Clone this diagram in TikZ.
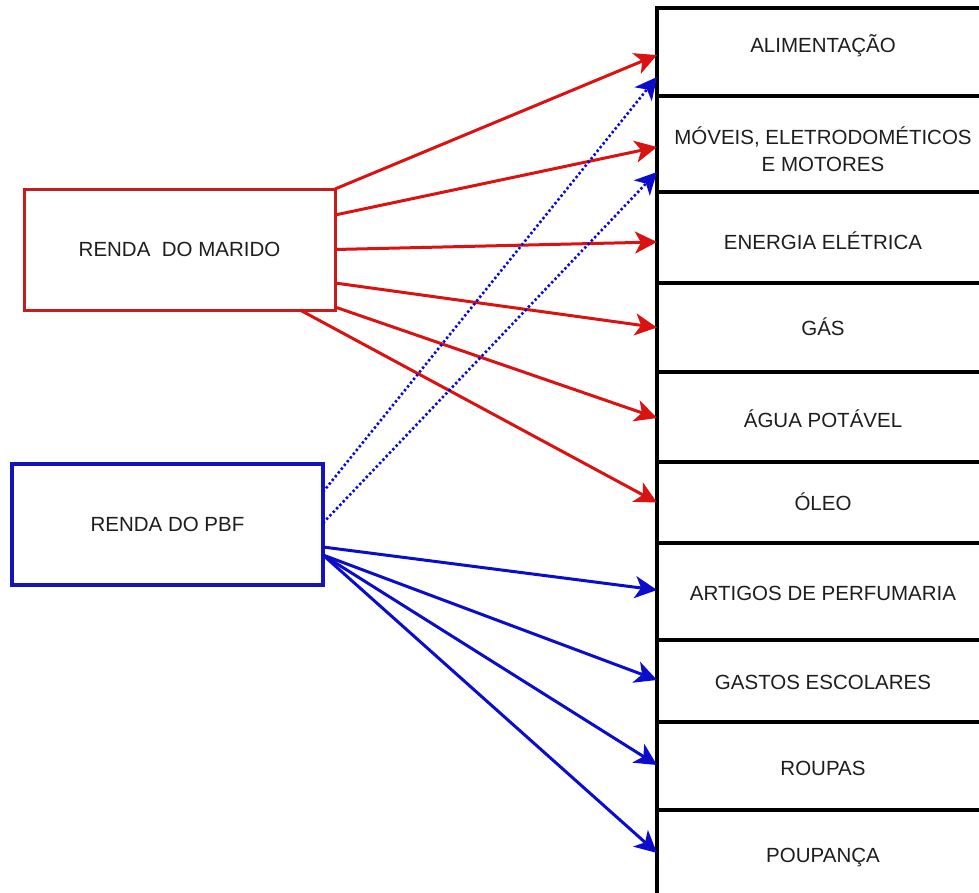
\documentclass[tikz,border=0pt]{standalone}
\usepackage{fontspec}
\setmainfont{Liberation Sans}
\usetikzlibrary{arrows.meta,calc}
\definecolor{rd}{RGB}{218,18,18}
\definecolor{rdbox}{RGB}{200,28,28}
\definecolor{bl}{RGB}{12,12,205}
\definecolor{blbox}{RGB}{20,20,185}
\definecolor{txt}{RGB}{30,30,30}
\begin{document}
\begin{tikzpicture}[x=1pt,y=-1pt,
  catbox/.style={draw=black, line width=4pt, minimum width=332pt, anchor=north west, inner sep=0pt, outer sep=0pt},
  cattext/.style={text=txt, font=\fontsize{20.5}{27}\selectfont, align=center, inner sep=0pt, text height=14.5pt, text depth=0pt},
  srcbox/.style={line width=3pt, minimum width=311pt, minimum height=121pt, inner sep=0pt, outer sep=0pt, text=txt, font=\fontsize{20.5}{24}\selectfont, text height=14.5pt, text depth=0pt},
  tipstyle/.style={-{Stealth[length=22pt 0,width=22pt 0,inset=6pt 0]}},
  redarrow/.style={draw=rd, line width=3pt, tipstyle},
  bluearrow/.style={draw=bl, line width=3pt, tipstyle},
  bluedot/.style={draw=bl, line width=2.6pt, dash pattern=on 2.4pt off 2.4pt, tipstyle}
]
\useasboundingbox (0,0) rectangle (979,892);
\fill[white] (0,0) rectangle (979,892);

% category boxes
\node[catbox, minimum height=88pt] (alim) at (657,8) {};
\node[catbox, minimum height=96pt] (moveis) at (657,96) {};
\node[catbox, minimum height=91pt] (energia) at (657,192) {};
\node[catbox, minimum height=89pt] (gas) at (657,283) {};
\node[catbox, minimum height=90pt] (agua) at (657,372) {};
\node[catbox, minimum height=81pt] (oleo) at (657,462) {};
\node[catbox, minimum height=97pt] (artigos) at (657,543) {};
\node[catbox, minimum height=82pt] (gastos) at (657,640) {};
\node[catbox, minimum height=88pt] (roupas) at (657,722) {};
\node[catbox, minimum height=100pt] (poupanca) at (657,810) {};

% category texts
\node[cattext] (talim) at (823,45) {ALIMENTAÇÃO};
\node[cattext, text height=, text depth=] (tmoveis) at (823,149) {MÓVEIS, ELETRODOMÉTICOS\\E MOTORES};
\node[cattext] (tenergia) at (823,242) {ENERGIA ELÉTRICA};
\node[cattext] (tgas) at (823,328) {GÁS};
\node[cattext] (tagua) at (823,420) {ÁGUA POTÁVEL};
\node[cattext] (toleo) at (823,503) {ÓLEO};
\node[cattext] (tartigos) at (823,593) {ARTIGOS DE PERFUMARIA};
\node[cattext] (tgastos) at (823,682) {GASTOS ESCOLARES};
\node[cattext] (troupas) at (823,768) {ROUPAS};
\node[cattext] (tpoupanca) at (823,855) {POUPANÇA};

% source boxes
\node[srcbox, draw=rdbox] (marido) at (179.5,249.5) {RENDA\ \ DO MARIDO};
\node[srcbox, draw=blbox, line width=3.4pt] (pbf) at (167.5,524.5) {RENDA DO PBF};

% red arrows
\draw[redarrow] (marido.north east) -- ([yshift=-3pt]alim.west);
\draw[redarrow] ([yshift=34.5pt]marido.east) -- ([yshift=-3pt]moveis.west);
\draw[redarrow] (marido.east) -- ([yshift=-4.5pt]energia.west);
\draw[redarrow] ([yshift=-33.5pt]marido.east) -- (gas.west);
\draw[redarrow] ([yshift=3pt]marido.south east) -- ([yshift=-1pt]agua.west);
\draw[redarrow] ([xshift=-35pt]marido.south east) -- (oleo.west);

% blue dotted arrows
\draw[bluedot] ([yshift=32.5pt]pbf.east) -- ([yshift=-25pt]alim.west);
\draw[bluedot] ([yshift=1.5pt]pbf.east) -- ([yshift=-28pt]moveis.west);

% blue arrows
\draw[bluearrow] ([yshift=-22.5pt]pbf.east) -- ([yshift=1.5pt]artigos.west);
\draw[bluearrow] ([yshift=-30.5pt]pbf.east) -- ([yshift=1pt]gastos.west);
\draw[bluearrow] ([yshift=-30.5pt]pbf.east) -- ([yshift=1pt]roupas.west);
\draw[bluearrow] ([yshift=-30.5pt]pbf.east) -- ([yshift=7pt]poupanca.west);
\end{tikzpicture}
\end{document}
